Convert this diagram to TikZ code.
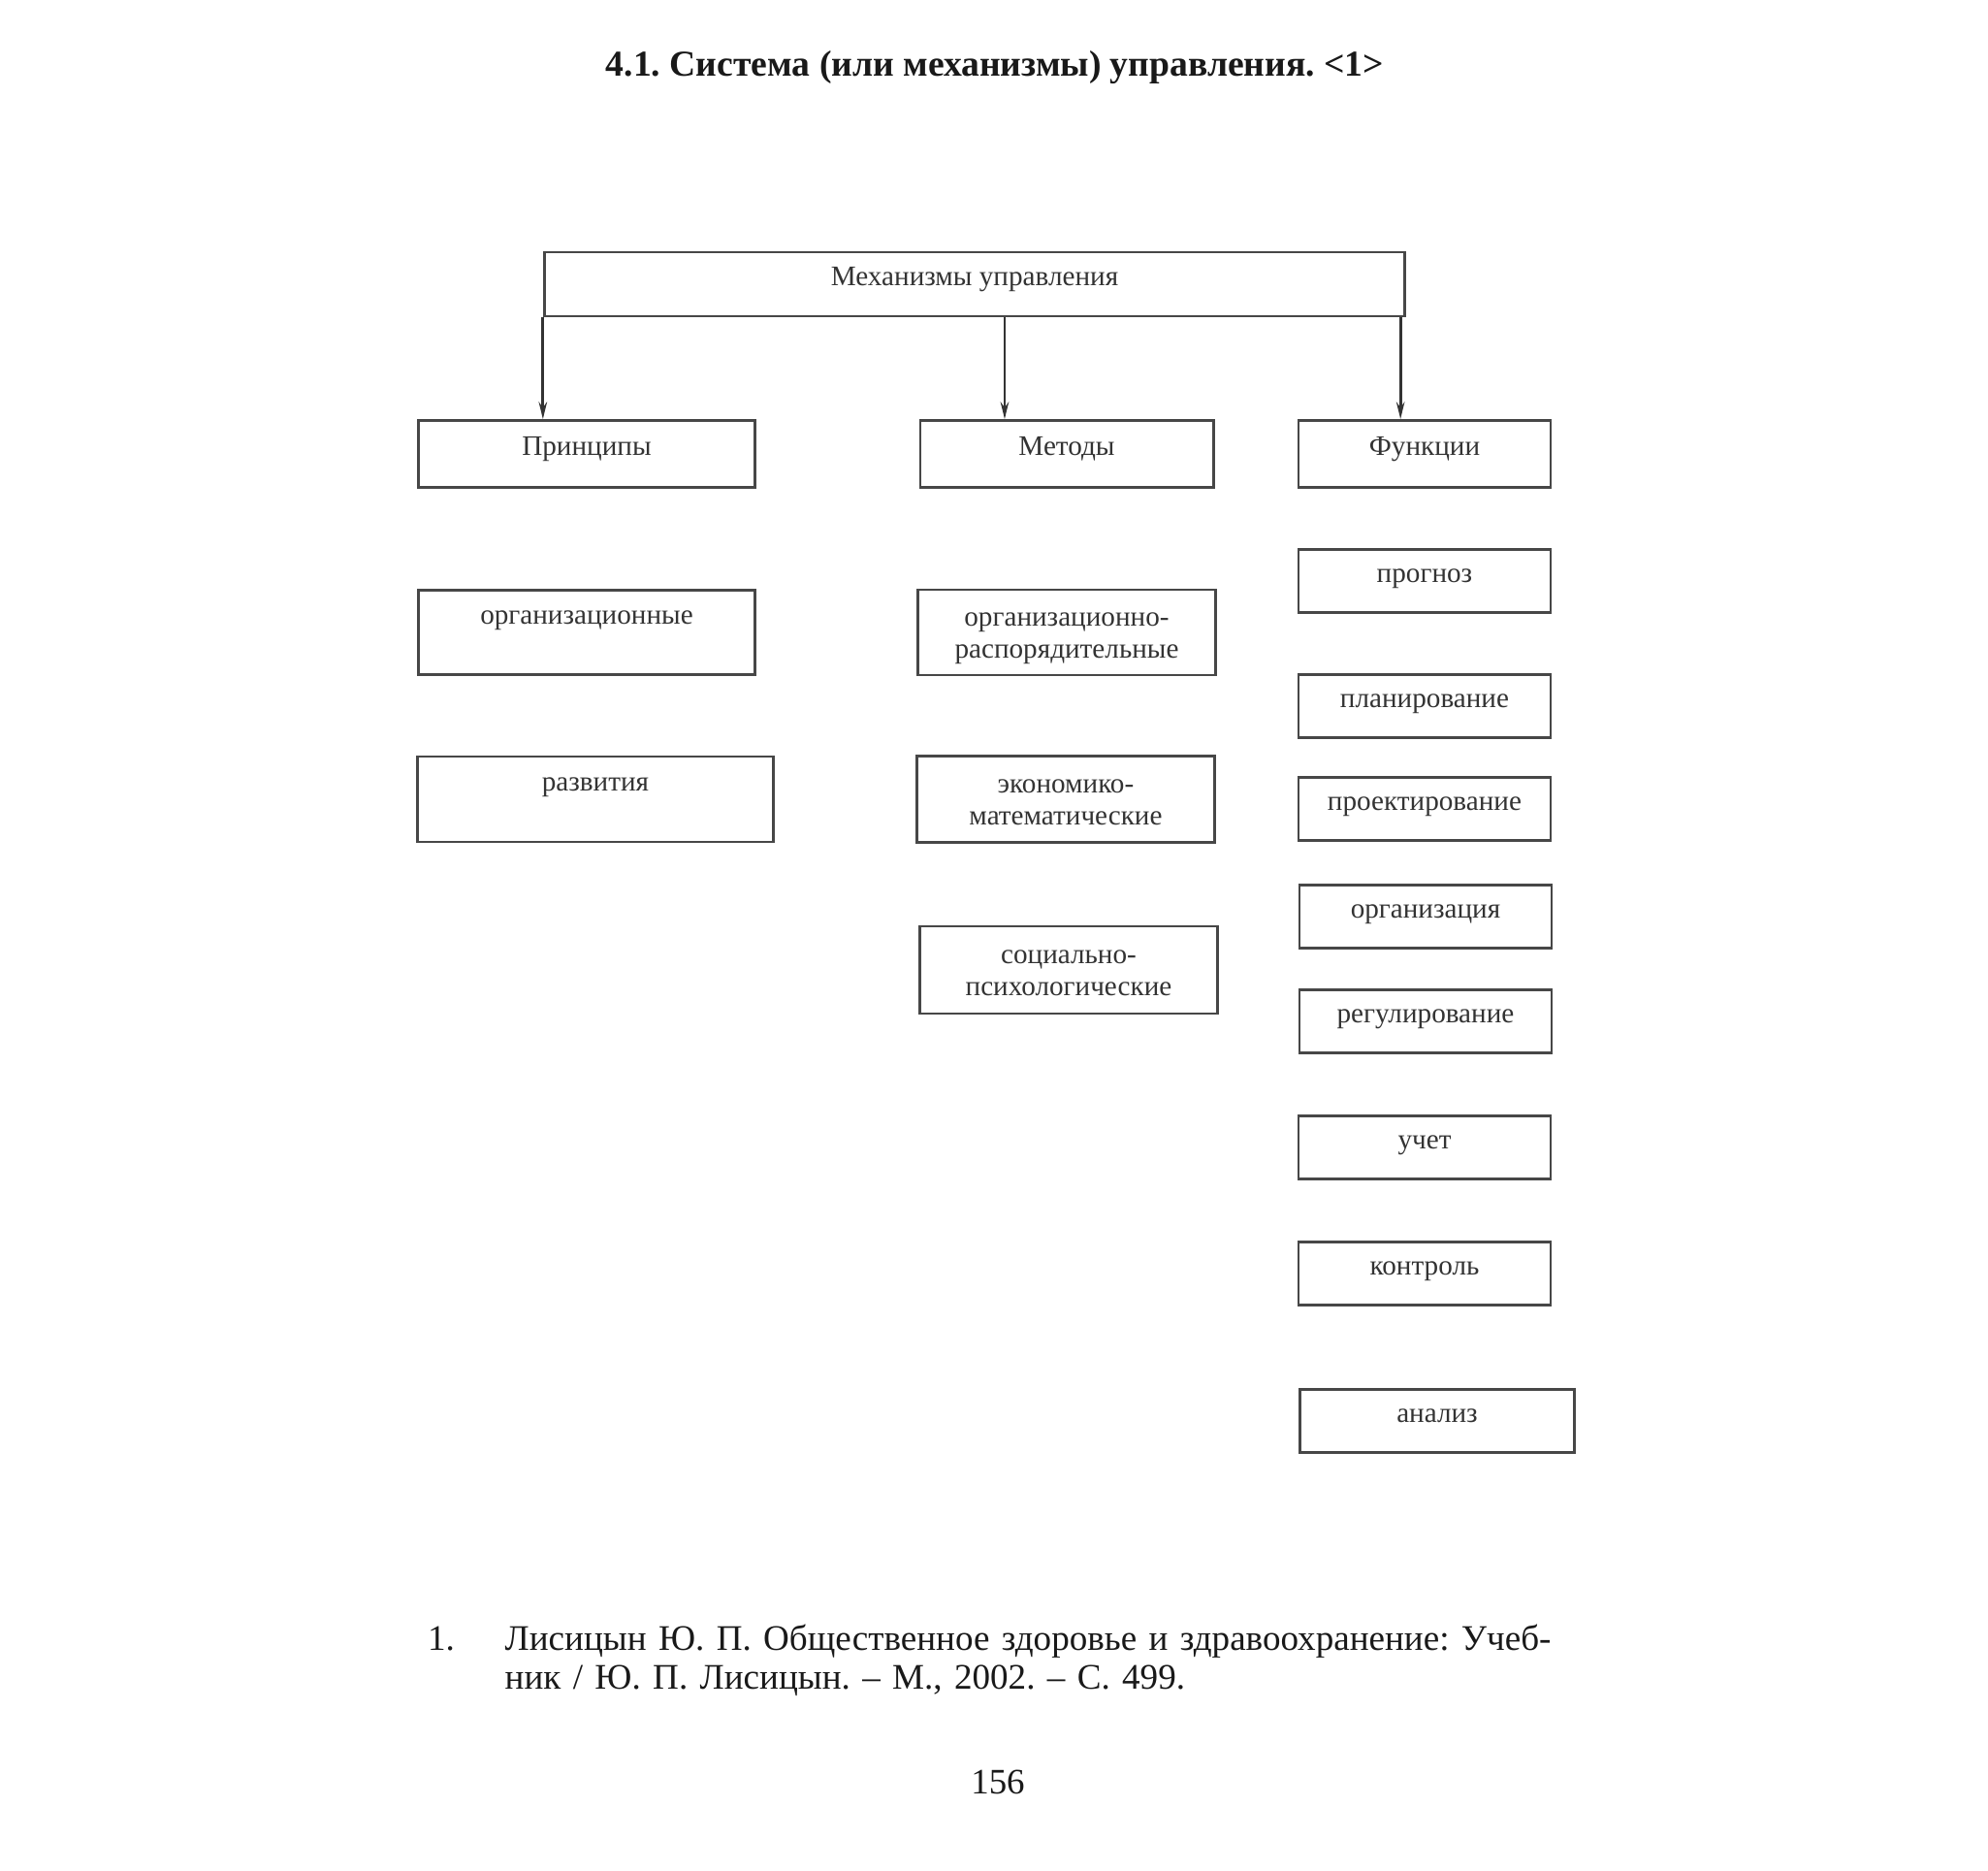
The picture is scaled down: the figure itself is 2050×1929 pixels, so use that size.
\documentclass[tikz,border=0pt]{standalone}
\usepackage{fontspec}
\setmainfont{Liberation Serif}
\frenchspacing
\usetikzlibrary{arrows.meta,positioning}
\tikzset{
    %Define standard arrow tip
    >={Stealth[length=5pt,width=2.4pt]},
    %Define style for boxes
    block/.style={
           rectangle,
           draw=black!72, line width=0.8pt,
           inner sep=1pt,
           font=\fontsize{8.3}{9.4}\selectfont,
           text=black!80,
           text height=4.3pt, text depth=3.7pt,
           align=center},
    topblock/.style={
           block,
           minimum width=8.87cm,
           minimum height=0.66cm},
    head/.style={
           block,
           minimum height=0.69cm},
    funcbox/.style={
           block,
           minimum width=2.6cm,
           minimum height=0.65cm},
    % one line set high in a tall box
    highline/.style={
           block,
           text height=4pt, text depth=9pt},
    % two lines in a box
    twoline/.style={
           block,
           text width=3cm,
           text height=6pt, text depth=9.8pt},
    % Define arrow style
    pil/.style={
           ->,
           draw=black!80,
           line width=0.8pt},
    txt/.style={inner sep=0pt, text=black!90}
}

\begin{document}
\begin{tikzpicture}[x=0.01cm,y=-0.01cm]
\useasboundingbox (0,0) rectangle (2050,1929);
\node[txt, font=\bfseries\fontsize{10.7}{12}\selectfont](title) at (1026,69){4.1. Система (или механизмы) управления. <1>};
\node[topblock](mech) at (1005,293){Механизмы управления};
% first level
\node[head, minimum width=3.46cm](prin) at (605,468){Принципы};
\node[head, minimum width=3.02cm](meth) at (1100,468){Методы};
\node[head, minimum width=2.6cm](func) at (1469,468){Функции};
% principles
\node[highline, minimum width=3.47cm, minimum height=0.87cm](org) at (605,652){организационные};
\node[highline, minimum width=3.66cm, minimum height=0.88cm](razv) at (614,824){развития};
% methods
\node[twoline, minimum width=3.02cm, minimum height=0.88cm](orgr) at (1100,652){организационно-\\распорядительные};
\node[twoline, minimum width=3.04cm, minimum height=0.89cm](ekon) at (1099,824){экономико-\\математические};
\node[twoline, minimum width=3.03cm, minimum height=0.90cm](soc) at (1102,1000){социально-\\психологические};
% functions
\node[funcbox](prog) at (1469,599){прогноз};
\node[funcbox](plan) at (1469,728){планирование};
\node[funcbox](proekt) at (1469,834){проектирование};
\node[funcbox](orgz) at (1470,945){организация};
\node[funcbox](reg) at (1470,1053){регулирование};
\node[funcbox](uchet) at (1469,1183){учет};
\node[funcbox](kontr) at (1469,1313){контроль};
\node[funcbox, minimum width=2.83cm](anal) at (1482,1465){анализ};
\draw[pil] (mech.south west) -- (mech.south west |- prin.north);
\draw[pil] ([xshift=-0.64cm]meth.north |- mech.south) -- ([xshift=-0.64cm]meth.north);
\draw[pil] ([xshift=-0.06cm]mech.south east) -- ([xshift=-0.06cm]mech.south east |- func.north);
% footnote
\node[txt, anchor=base, font=\fontsize{10.55}{11.4}\selectfont](fnum) at (455,1701){1.};
\node[txt, anchor=base west, text width=11.5cm, align=left, font=\fontsize{10.55}{11.4}\selectfont](fnote) at (520,1701){Лисицын Ю. П. Общественное здоровье и здравоохранение: Учеб-\\ник / Ю. П. Лисицын. -- М., 2002. -- С. 499.};
\node[txt, font=\fontsize{10.5}{12}\selectfont](page) at (1029,1837){156};
\end{tikzpicture}
\end{document}
